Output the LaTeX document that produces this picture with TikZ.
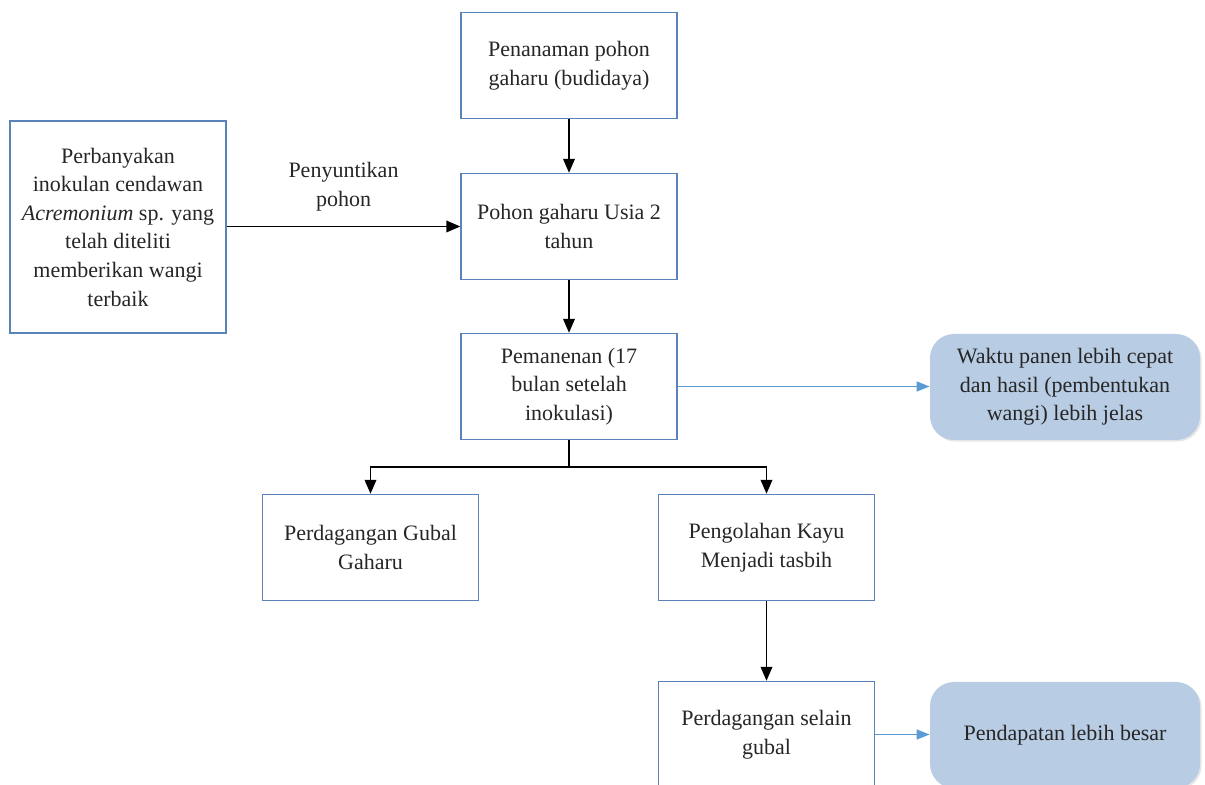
\documentclass[tikz,border=0pt]{standalone}
\usepackage{fontspec}
\setmainfont{Liberation Serif}
\usetikzlibrary{arrows.meta,shadows}
\definecolor{boxline}{HTML}{5A83BA}
\definecolor{softfill}{HTML}{B8CCE4}
\definecolor{bluearrow}{HTML}{5B9BD5}
\definecolor{ink}{HTML}{262626}
\begin{document}
\begin{tikzpicture}[x=0.5pt,y=-0.5pt, font=\fontsize{11}{14.3}\selectfont, text=ink,
 box/.style={draw=boxline, line width=0.7pt, minimum width=108pt, minimum height=53pt, align=center, inner sep=2pt},
 soft/.style={fill=softfill, rounded corners=12pt, minimum width=135pt, minimum height=53pt, align=center, inner sep=2pt,
   drop shadow={opacity=0.2, shadow xshift=0.8pt, shadow yshift=-0.8pt}},
 arr/.style={-{Triangle[length=7pt,width=5.8pt]}, line width=0.9pt},
 barr/.style={draw=bluearrow, -{Triangle[length=6.5pt,width=5pt]}, line width=0.75pt, bluearrow}]
\path[use as bounding box] (0,0) rectangle (1205,785);
\clip (0,0) rectangle (1205,785);
\node[box] (A) at (569,65.5) {Penanaman pohon\\gaharu (budidaya)};
\node[box] (B) at (569,226.5) {Pohon gaharu Usia 2\\tahun};
\node[box, minimum height=106pt] (L) at (118,227) {Perbanyakan\\inokulan cendawan\\\textit{Acremonium} sp. yang\\telah diteliti\\memberikan wangi\\terbaik};
\node[box] (C) at (569,386.5) {Pemanenan (17\\bulan setelah\\inokulasi)};
\node[soft] (R1) at (1065,387) {Waktu panen lebih cepat\\dan hasil (pembentukan\\wangi) lebih jelas};
\node[box] (D) at (370.5,547.5) {Perdagangan Gubal\\Gaharu};
\node[box] (E) at (766.5,547.5) {Pengolahan Kayu\\Menjadi tasbih};
\node[box] (F) at (766.5,734.5) {Perdagangan selain\\gubal};
\node[soft] (R2) at (1065,735) {Pendapatan lebih besar};
\draw[arr] (A) -- (B);
\draw[arr] (B.west -| L.east) -- node[above=4pt, align=center]{Penyuntikan\\pohon} (B.west);
\draw[arr] (B) -- (C);
\coordinate (j) at (569,467);
\draw[line width=0.9pt] (C.south) -- (j);
\draw[arr] (j) -| (D.north);
\draw[arr] (j) -| (E.north);
\draw[arr] (E) -- (F);
\draw[barr] (C.east) -- (C.east -| R1.west);
\draw[barr] (F.east) -- (F.east -| R2.west);
\end{tikzpicture}
\end{document}
